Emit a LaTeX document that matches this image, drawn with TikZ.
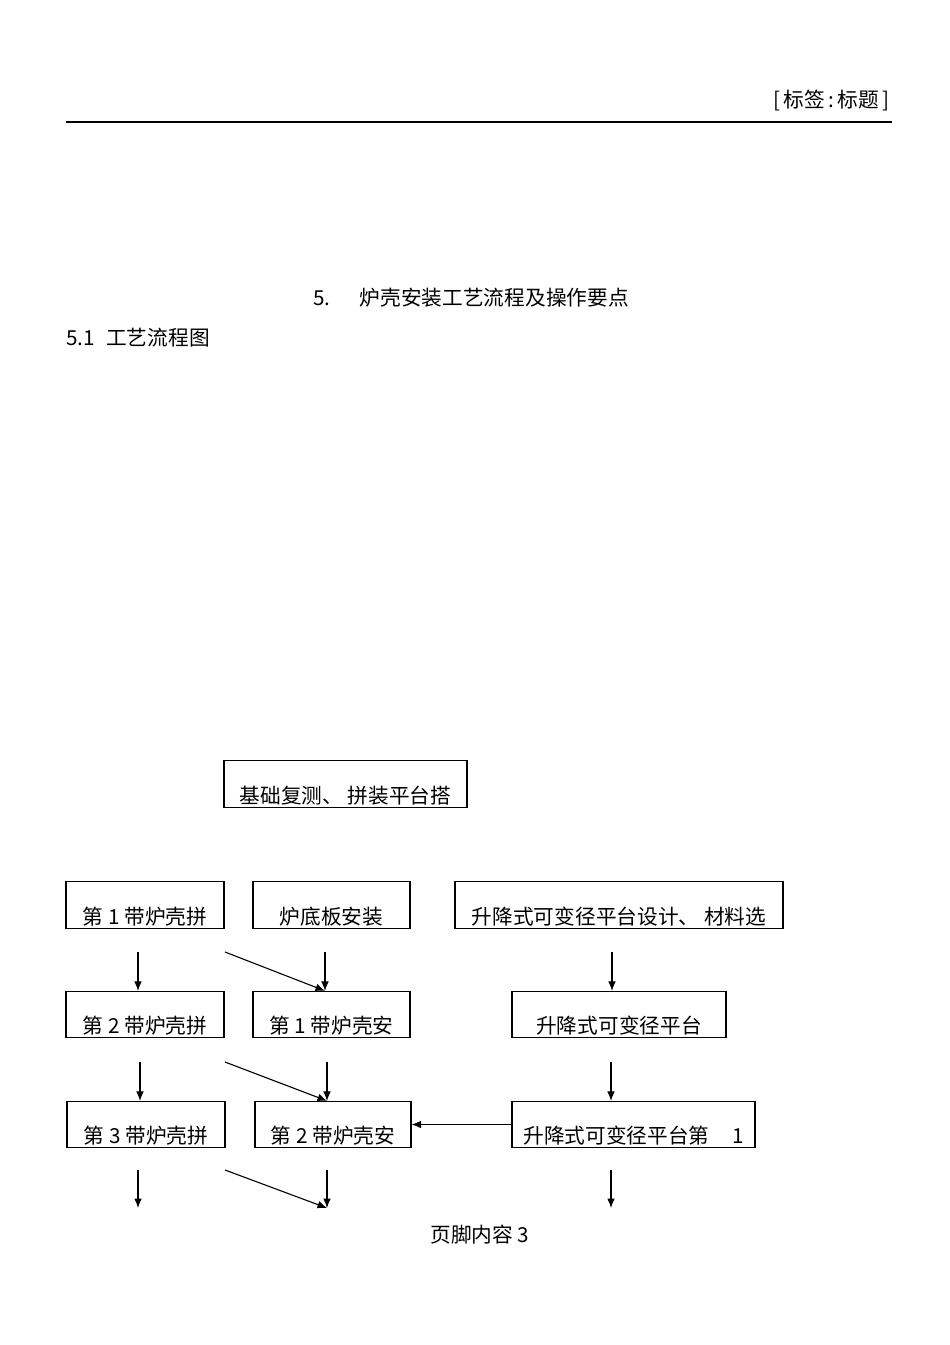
\documentclass[tikz,border=0pt]{standalone}
\usepackage{fontspec}
\setmainfont{Noto Sans CJK SC}
\usetikzlibrary{arrows.meta}

\tikzset{
	stepbox/.style={draw,line width=0.7pt,inner xsep=0pt,inner ysep=0.3mm,text depth=0.6mm,text height=9.0mm,align=center},
	flow/.style={line width=0.7pt,-{Latex[length=2.1mm,width=1.7mm]}}
}

\begin{document}
\begin{tikzpicture}[x=0.221mm,y=-0.221mm,font=\fontsize{13}{15}\selectfont]
			%\draw[help lines,xstep=50,ystep=50] (0,0) grid (950,1345);
			\useasboundingbox (0,0) rectangle (950,1345);
			\node[anchor=base east,inner sep=0] (hdr) at (890,107) {[\,标签\,:\,标题\,]};
			\draw[line width=0.7pt] (66,122) -- (892,122);
			\node[anchor=base west,inner sep=0] (title) at (313,305) {5.\hspace{6.5mm}炉壳安装工艺流程及操作要点};
			\node[anchor=base west,inner sep=0] (sub) at (66,345) {5.1\hspace{2.5mm}工艺流程图};
			% boxes
			\node[stepbox,minimum width=243*0.221mm] (base) at (345.5,784) {基础复测、 拼装平台搭};
			\node[stepbox,minimum width=158*0.221mm] (a1) at (145,905) {第 1 带炉壳拼};
			\node[stepbox,minimum width=157*0.221mm] (b1) at (331.5,905) {炉底板安装};
			\node[stepbox,minimum width=328*0.221mm] (c1) at (619,905) {升降式可变径平台设计、 材料选};
			\node[stepbox,minimum width=158*0.221mm] (a2) at (145,1014.5) {第 2 带炉壳拼};
			\node[stepbox,minimum width=157*0.221mm] (b2) at (331.5,1014.5) {第 1 带炉壳安};
			\node[stepbox,minimum width=214*0.221mm] (c2) at (619,1014.5) {升降式可变径平台};
			\node[stepbox,minimum width=158*0.221mm] (a3) at (146,1124.5) {第 3 带炉壳拼};
			\node[stepbox,minimum width=156*0.221mm] (b3) at (333,1124.5) {第 2 带炉壳安};
			\node[stepbox,minimum width=243*0.221mm] (c3) at (633.5,1124.5) {升降式可变径平台第\hspace{5mm}1};
			% arrow starts
			\coordinate (p1) at (138,952);
			\coordinate (q1) at (225,952);
			\coordinate (r1) at (325,952);
			\coordinate (s1) at (612,952);
			\coordinate (p2) at (140,1062);
			\coordinate (q2) at (225,1062);
			\coordinate (r2) at (327,1062);
			\coordinate (s2) at (611,1062);
			\coordinate (p3) at (138,1170);
			\coordinate (q3) at (225,1170);
			\coordinate (r3) at (327,1170);
			\coordinate (s3) at (611,1170);
			\draw[flow] (p1) -- (p1 |- a2.north);
			\draw[flow] (q1) -- (r1 |- b2.north);
			\draw[flow] (r1) -- (r1 |- b2.north);
			\draw[flow] (s1) -- (s1 |- c2.north);
			\draw[flow] (p2) -- (p2 |- a3.north);
			\draw[flow] (q2) -- (r2 |- b3.north);
			\draw[flow] (r2) -- (r2 |- b3.north);
			\draw[flow] (s2) -- (s2 |- c3.north);
			\draw[flow] (c3.west) -- (b3.east);
			\coordinate (p4) at (138,1208);
			\coordinate (r4) at (327,1208);
			\coordinate (s4) at (611,1208);
			\draw[flow] (p3) -- (p4);
			\draw[flow] (q3) -- (r4);
			\draw[flow] (r3) -- (r4);
			\draw[flow] (s3) -- (s4);
			\node[anchor=base,inner sep=0] (foot) at (480,1242) {页脚内容 3};
		\end{tikzpicture}
\end{document}
